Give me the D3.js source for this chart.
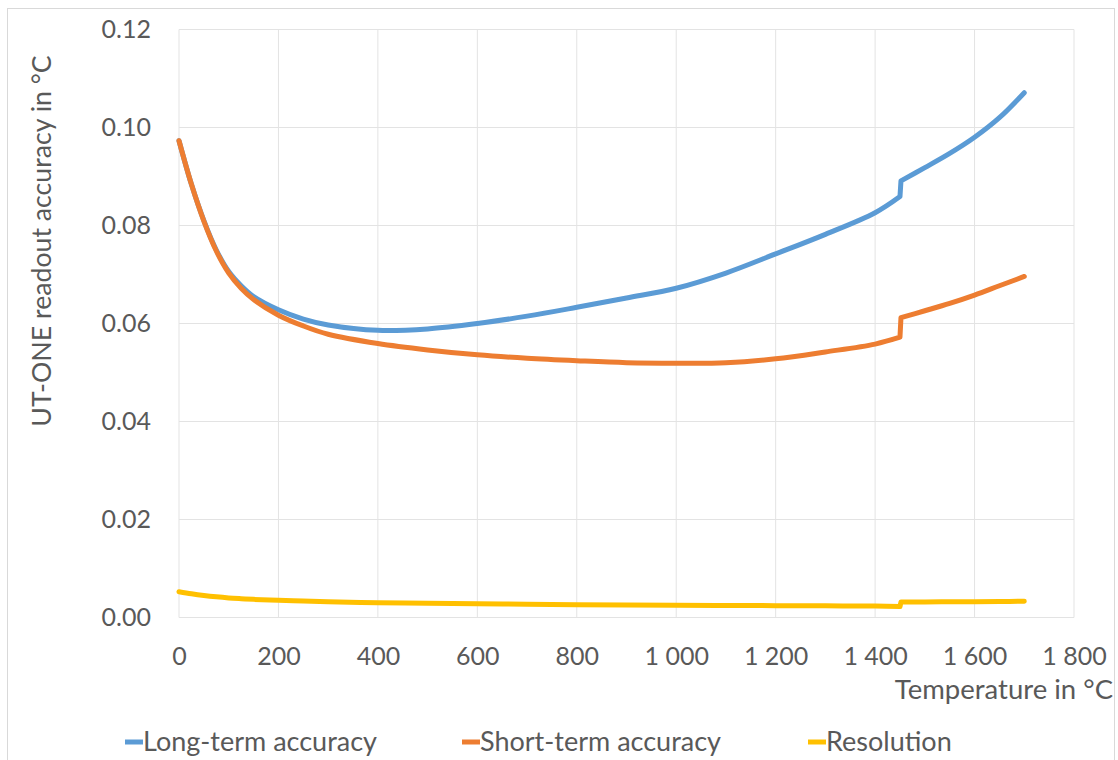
<!DOCTYPE html>
<html><head><meta charset="utf-8">
<script src="https://cdn.jsdelivr.net/npm/d3@7"></script>
<style>body{margin:0;background:#fff}svg{display:block}text{font-family:Lato,"Open Sans",sans-serif;fill:#595959}</style>
</head><body><svg id="c" width="1118" height="760"></svg>
<script>
const xTicks=[0,200,400,600,800,1000,1200,1400,1600,1800];
const yTicks=[0,0.02,0.04,0.06,0.08,0.10,0.12];
const temps=[0,25,50,75,100,125,150,200,250,300,400,500,600,700,800,900,1000,1100,1200,1300,1400,1450,1452,1500,1550,1600,1650,1700];
const longTerm=[0.0973,0.0884,0.0810,0.0750,0.0706,0.0677,0.0655,0.0628,0.0609,0.0597,0.0586,0.0589,0.0600,0.0615,0.0633,0.0652,0.0672,0.0703,0.0742,0.0782,0.0826,0.0859,0.0891,0.0918,0.0947,0.0980,0.1020,0.1071];
const shortTerm=[0.0973,0.0884,0.0809,0.0748,0.0703,0.0672,0.0649,0.0617,0.0595,0.0578,0.0559,0.0546,0.0536,0.0529,0.0524,0.0520,0.0519,0.0520,0.0528,0.0542,0.0558,0.0572,0.0612,0.0626,0.0641,0.0658,0.0677,0.0696];
const resolution=[0.00527,0.00485,0.00450,0.00422,0.00400,0.00384,0.00370,0.00350,0.00335,0.00322,0.00302,0.00290,0.00280,0.00272,0.00262,0.00255,0.00250,0.00246,0.00242,0.00238,0.00233,0.00222,0.00316,0.00318,0.00320,0.00323,0.00327,0.00332];
const seriesNames=["Long-term accuracy","Short-term accuracy","Resolution"];
const colors=["#5B9BD5","#ED7D31","#FFC000"];

const svg=d3.select("#c");
svg.append("rect").attr("x",7.5).attr("y",8.5).attr("width",1107).attr("height",760).attr("fill","#fff").attr("stroke","#d9d9d9");
const x=d3.scaleLinear().domain([0,1800]).range([179,1074]);
const y=d3.scaleLinear().domain([0,0.12]).range([617.5,29.5]);
const g=svg.append("g");
g.selectAll(".vg").data(xTicks).join("line").attr("x1",d=>x(d)).attr("x2",d=>x(d)).attr("y1",y(0.12)).attr("y2",y(0)).attr("stroke","#e3e3e3").attr("stroke-width",1);
g.selectAll(".hg").data(yTicks).join("line").attr("x1",x(0)).attr("x2",x(1800)).attr("y1",d=>y(d)).attr("y2",d=>y(d)).attr("stroke","#e3e3e3").attr("stroke-width",1);
const xa=svg.append("g").attr("transform",`translate(0,${y(0)})`).call(d3.axisBottom(x).tickValues(xTicks).tickSize(0).tickPadding(30).tickFormat(d=>d3.format(",")(d).replace(","," ")));
xa.select(".domain").remove();
xa.selectAll("text").attr("font-size",25).style("fill","#595959").attr("font-family","Lato");
const ya=svg.append("g").attr("transform",`translate(${x(0)},0)`).call(d3.axisLeft(y).tickValues(yTicks).tickSize(0).tickPadding(28).tickFormat(d3.format(".2f")));
ya.select(".domain").remove();
ya.selectAll("text").attr("font-size",25).style("fill","#595959").attr("font-family","Lato");
svg.append("text").attr("transform","translate(51,241) rotate(-90)").attr("text-anchor","middle").attr("font-size",26.7).text("UT-ONE readout accuracy in °C");
svg.append("text").attr("x",1113).attr("y",699).attr("text-anchor","end").attr("font-size",27.5).text("Temperature in °C");
const all=[longTerm,shortTerm,resolution];
// split at the step (consecutive temperatures very close)
let split=temps.findIndex((t,j)=>j>0 && t-temps[j-1]<5);
const smooth=d3.line().x(d=>x(d[0])).y(d=>y(d[1])).curve(d3.curveCatmullRom.alpha(0.5));
const straight=d3.line().x(d=>x(d[0])).y(d=>y(d[1]));
all.forEach((s,i)=>{
  const pts=temps.map((t,j)=>[t,s[j]]);
  const segA=pts.slice(0,split), segB=pts.slice(split);
  const d=smooth(segA)+straight([pts[split-1],pts[split]]).replace("M","L")+smooth(segB).replace("M","L");
  svg.append("path").attr("d",d).attr("fill","none").attr("stroke",colors[i]).attr("stroke-width",5).attr("stroke-linecap","round").attr("stroke-linejoin","round");
});
const legX=[125,462,808];
seriesNames.forEach((n,i)=>{
  svg.append("line").attr("x1",legX[i]).attr("x2",legX[i]+18).attr("y1",742).attr("y2",742).attr("stroke",colors[i]).attr("stroke-width",5);
  svg.append("text").attr("x",legX[i]+18).attr("y",751).attr("font-size",27).text(n);
});
</script></body></html>
